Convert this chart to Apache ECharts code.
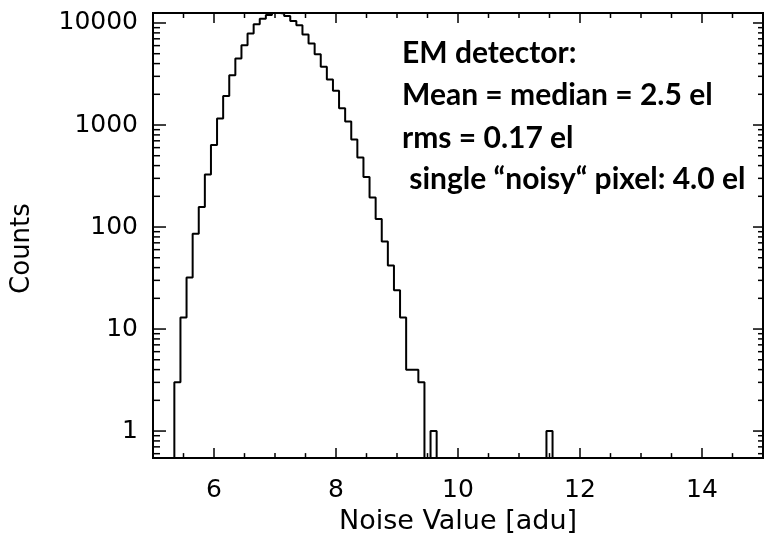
<!DOCTYPE html>
<html><head><meta charset="utf-8">
<script src="https://cdn.jsdelivr.net/npm/echarts@6/dist/echarts.min.js"></script>
<style>html,body{margin:0;padding:0;background:#fff}#c{width:764px;height:540px}</style>
</head><body><div id="c"></div>
<script>
// Histogram bin left edges (adu) and counts (0 = empty bin)
const binLeft = [5.25,5.35,5.45,5.55,5.65,5.75,5.85,5.95,6.05,6.15,6.25,6.35,6.45,6.55,6.65,6.75,6.85,6.95,7.05,7.15,7.25,7.35,7.45,7.55,7.65,7.75,7.85,7.95,8.05,8.15,8.25,8.35,8.45,8.55,8.65,8.75,8.85,8.95,9.05,9.15,9.25,9.35,9.45,9.55,9.65,11.45,11.55];
const counts  = [0,3,13,32,86,157,327,637,1160,1920,3080,4490,6050,7880,9710,11000,12000,12600,12400,11700,10450,9500,7710,6280,4940,3720,2800,2170,1460,1080,720,480,310,195,120,72,42,24,13,4,4,3,0,1,0,1,0];
const xLabels = [6,8,10,12,14];
const xMinor = [5.5,6.5,7,7.5,8.5,9,9.5,10.5,11,11.5,12.5,13,13.5,14.5];
const yLabels = [1,10,100,1000,10000];
const X_MIN = 5, X_MAX = 15, Y_MIN = 0.543, Y_MAX = 12530;
const annotation = ['EM detector:', 'Mean = median = 2.5 el', 'rms = 0.17 el', ' single \u201Cnoisy\u201C pixel: 4.0 el'];

const yMinor = [];
for (let d = 0.1; d <= 10000; d *= 10) for (let k = 2; k <= 9; k++) { const v = +(k * d).toPrecision(3); if (v > Y_MIN && v < Y_MAX) yMinor.push(v); }

const histData = binLeft.map((x, i) => [x, counts[i] > 0 ? counts[i] : 0.2]);
const tickData = [];
xLabels.forEach(v => tickData.push([v, 1, 0]));
xMinor.forEach(v => tickData.push([v, 1, 1]));
yLabels.forEach(v => tickData.push([6, v, 2]));
yMinor.forEach(v => tickData.push([6, v, 3]));

const chart = echarts.init(document.getElementById('c'), null, {renderer: 'canvas'});
const FONT = 'DejaVu Sans';
chart.setOption({
  animation: false,
  backgroundColor: '#fff',
  grid: {left: 153, right: 1, top: 13, bottom: 81, show: true, borderColor: '#000', borderWidth: 2, backgroundColor: 'transparent'},
  xAxis: {
    type: 'value', min: X_MIN, max: X_MAX,
    name: 'Noise Value [adu]', nameLocation: 'middle', nameGap: 44,
    nameTextStyle: {fontFamily: FONT, fontSize: 27, color: '#000'},
    axisLine: {show: false}, axisTick: {show: false}, splitLine: {show: false},
    axisLabel: {customValues: xLabels, margin: 20, fontFamily: FONT, fontSize: 25, color: '#000'}
  },
  yAxis: {
    type: 'log', logBase: 10, min: Y_MIN, max: Y_MAX,
    name: 'Counts', nameLocation: 'middle', nameGap: 118,
    nameTextStyle: {fontFamily: FONT, fontSize: 26, color: '#000', padding: [0, 26, 0, 0]},
    axisLine: {show: false}, axisTick: {show: false}, splitLine: {show: false}, minorTick: {show: false},
    axisLabel: {customValues: yLabels, margin: 15, fontFamily: FONT, fontSize: 25, color: '#000',
      formatter: v => String(Math.round(v))}
  },
  series: [
    {type: 'line', data: histData, step: 'end', symbol: 'none', clip: true,
     lineStyle: {color: '#000', width: 2}},
    {type: 'custom', data: tickData, clip: false, silent: true,
     renderItem: function (params, api) {
       const kind = api.value(2);
       const st = {stroke: '#000', lineWidth: 1.5};
       if (kind <= 1) {
         const v = api.value(0);
         const L = kind === 0 ? 10 : 5;
         const b = api.coord([v, Y_MIN]), t = api.coord([v, Y_MAX]);
         return {type: 'group', children: [
           {type: 'line', shape: {x1: b[0], y1: b[1], x2: b[0], y2: b[1] - L}, style: st},
           {type: 'line', shape: {x1: t[0], y1: t[1], x2: t[0], y2: t[1] + L}, style: st}
         ]};
       } else {
         const v = api.value(1);
         const Ll = kind === 2 ? 13 : 7, Lr = kind === 2 ? 10 : 5;
         const l = api.coord([X_MIN, v]), r = api.coord([X_MAX, v]);
         return {type: 'group', children: [
           {type: 'line', shape: {x1: l[0], y1: l[1], x2: l[0] + Ll, y2: l[1]}, style: st},
           {type: 'line', shape: {x1: r[0], y1: r[1], x2: r[0] - Lr, y2: r[1]}, style: st}
         ]};
       }
     }}
  ],
  graphic: annotation.map((t, i) => ({
    type: 'text', x: 402, y: [53, 95, 138, 179][i],
    style: {text: t, font: 'bold 30px Lato', fill: '#000', align: 'left', verticalAlign: 'middle'}
  }))
});
</script></body></html>
